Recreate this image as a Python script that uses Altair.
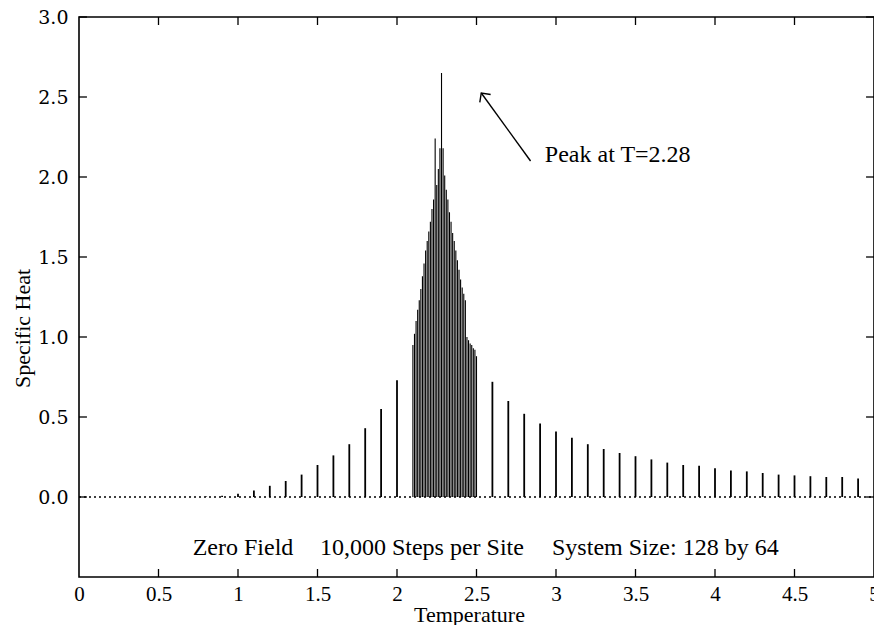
import altair as alt
import pandas as pd

# ---------------- data ----------------
T_LOW = [0.1, 0.2, 0.3, 0.4, 0.5, 0.6, 0.7, 0.8, 0.9, 1.0,
         1.1, 1.2, 1.3, 1.4, 1.5, 1.6, 1.7, 1.8, 1.9, 2.0]
C_LOW = [0.0, 0.0, 0.0, 0.0, 0.0, 0.0, 0.001, 0.003, 0.008, 0.02,
         0.04, 0.07, 0.10, 0.14, 0.20, 0.26, 0.33, 0.43, 0.55, 0.73]

T_PEAK = [2.10, 2.11, 2.12, 2.13, 2.14, 2.15, 2.16, 2.17, 2.18, 2.19,
          2.20, 2.21, 2.22, 2.23, 2.24, 2.25, 2.26, 2.27, 2.28, 2.29,
          2.30, 2.31, 2.32, 2.33, 2.34, 2.35, 2.36, 2.37, 2.38, 2.39,
          2.40, 2.41, 2.42, 2.43, 2.44, 2.45, 2.46, 2.47, 2.48, 2.49, 2.50]
C_PEAK = [0.95, 1.02, 1.10, 1.17, 1.23, 1.30, 1.38, 1.46, 1.54, 1.60,
          1.66, 1.72, 1.80, 1.86, 2.24, 1.95, 2.05, 2.18, 2.65, 2.18,
          2.01, 1.92, 1.86, 1.78, 1.72, 1.65, 1.60, 1.54, 1.48, 1.42,
          1.36, 1.31, 1.27, 1.23, 1.00, 0.98, 0.96, 0.95, 0.93, 0.92, 0.88]

T_HIGH = [2.6, 2.7, 2.8, 2.9, 3.0, 3.1, 3.2, 3.3, 3.4, 3.5,
          3.6, 3.7, 3.8, 3.9, 4.0, 4.1, 4.2, 4.3, 4.4, 4.5,
          4.6, 4.7, 4.8, 4.9]
C_HIGH = [0.72, 0.60, 0.52, 0.46, 0.41, 0.37, 0.33, 0.30, 0.275, 0.255,
          0.235, 0.215, 0.20, 0.195, 0.18, 0.165, 0.16, 0.15, 0.14, 0.135,
          0.13, 0.125, 0.125, 0.115]

X_TICKS = [0, 0.5, 1, 1.5, 2, 2.5, 3, 3.5, 4, 4.5, 5]
Y_TICKS = [0.0, 0.5, 1.0, 1.5, 2.0, 2.5, 3.0]
X_DOMAIN = [0, 5]
Y_DOMAIN = [-0.5, 3.0]

PEAK_LABEL = ["Peak at T=2.28"]
PEAK_LABEL_T = [2.93]
PEAK_LABEL_C = [2.135]
ARROW_T = [2.84, 2.53]     # tail, tip
ARROW_C = [2.10, 2.525]

INFO_TEXTS = ["Zero Field", "10,000 Steps per Site", "System Size: 128 by 64"]
INFO_T = [0.715, 1.515, 2.975]
INFO_C = [-0.32, -0.32, -0.32]

SERIF = "Liberation Serif"

xs = alt.Scale(domain=X_DOMAIN, nice=False, zero=False)
ys = alt.Scale(domain=Y_DOMAIN, nice=False, zero=False)

x_axis = alt.Axis(values=X_TICKS, format="~g", ticks=False, tickSize=0, domain=False,
                  grid=False, labelFont=SERIF, labelFontSize=21, labelColor="black",
                  labelPadding=6, labelFlush=False, labelOverlap=False,
                  title="Temperature", titleFont=SERIF, titleFontSize=22,
                  titleFontWeight="normal", titleColor="black",
                  titleX=390, titleY=37, titleBaseline="middle")
y_axis = alt.Axis(values=Y_TICKS, format=".1f", ticks=False, tickSize=0, domain=False,
                  grid=False, labelFont="DejaVu Serif", labelFontSize=19, labelColor="black",
                  labelPadding=11, labelFlush=False, labelOverlap=False,
                  title="Specific Heat", titleFont=SERIF, titleFontSize=22,
                  titleFontWeight="normal", titleColor="black",
                  titleX=-57, titleY=311, titleBaseline="middle", titleAngle=270)


def X(field):
    return alt.X(field, type="quantitative", scale=xs, axis=x_axis)


def Y(field):
    return alt.Y(field, type="quantitative", scale=ys, axis=y_axis)


low_high = pd.DataFrame({"T": T_LOW + T_HIGH, "C": C_LOW + C_HIGH, "B": 0.0})
peak = pd.DataFrame({"T": T_PEAK, "C": C_PEAK, "B": 0.0})

stems_sparse = alt.Chart(low_high).mark_rule(color="black", strokeWidth=1.8).encode(
    x=X("T"), y=Y("B"), y2="C")

stems_peak = alt.Chart(peak).mark_rule(color="black", strokeWidth=1.1).encode(
    x=X("T"), y=Y("B"), y2="C")

baseline = alt.Chart(pd.DataFrame({"a": [X_DOMAIN[0]], "b": [X_DOMAIN[1]], "y": [0.0]})).mark_rule(
    color="black", strokeWidth=1.3, strokeDash=[2, 3]
).encode(x=X("a"), x2="b", y=Y("y"))

# inward tick marks on all four sides
TL = 0.05
left_df = pd.DataFrame({"v": Y_TICKS, "a": X_DOMAIN[0], "b": X_DOMAIN[0] + TL})
right_df = pd.DataFrame({"v": Y_TICKS, "a": X_DOMAIN[1] - TL, "b": X_DOMAIN[1]})
bottom_df = pd.DataFrame({"v": X_TICKS[1:-1], "a": Y_DOMAIN[0], "b": Y_DOMAIN[0] + TL})
top_df = pd.DataFrame({"v": X_TICKS[1:-1], "a": Y_DOMAIN[1] - TL, "b": Y_DOMAIN[1]})

tick_layers = []
for df in (left_df, right_df):
    tick_layers.append(alt.Chart(df).mark_rule(color="black", strokeWidth=1.3).encode(
        y=Y("v"), x=X("a"), x2="b"))
for df in (bottom_df, top_df):
    tick_layers.append(alt.Chart(df).mark_rule(color="black", strokeWidth=1.3).encode(
        x=X("v"), y=Y("a"), y2="b"))

arrow_df = pd.DataFrame({"t0": [ARROW_T[0]], "c0": [ARROW_C[0]],
                         "t1": [ARROW_T[1]], "c1": [ARROW_C[1]]})
arrow = alt.Chart(arrow_df).mark_rule(color="black", strokeWidth=1.4).encode(
    x=X("t0"), y=Y("c0"), x2="t1", y2="c1")
arrow_head = alt.Chart(arrow_df).mark_point(
    shape="M -1 1 L 0 0 L 1 1", filled=False, color="black", strokeWidth=1.4,
    size=180, angle=324, opacity=1
).encode(x=X("t1"), y=Y("c1"))

peak_text = alt.Chart(pd.DataFrame({"t": PEAK_LABEL_T, "c": PEAK_LABEL_C, "s": PEAK_LABEL})).mark_text(
    align="left", baseline="middle", font=SERIF, fontSize=24, color="black"
).encode(x=X("t"), y=Y("c"), text="s:N")

info_text = alt.Chart(pd.DataFrame({"t": INFO_T, "c": INFO_C, "s": INFO_TEXTS})).mark_text(
    align="left", baseline="middle", font=SERIF, fontSize=24, color="black"
).encode(x=X("t"), y=Y("c"), text="s:N")

chart = alt.layer(
    stems_sparse, baseline, stems_peak, *tick_layers,
    arrow, arrow_head, peak_text, info_text,
).properties(
    width=795, height=560,
    autosize=alt.AutoSizeParams(type="none"),
    padding={"left": 71, "top": 9, "right": 0, "bottom": 48},
    background="white",
).configure_view(stroke="black", strokeWidth=1.6)

chart.save("out.html", embed_options={"renderer": "svg", "actions": False})
